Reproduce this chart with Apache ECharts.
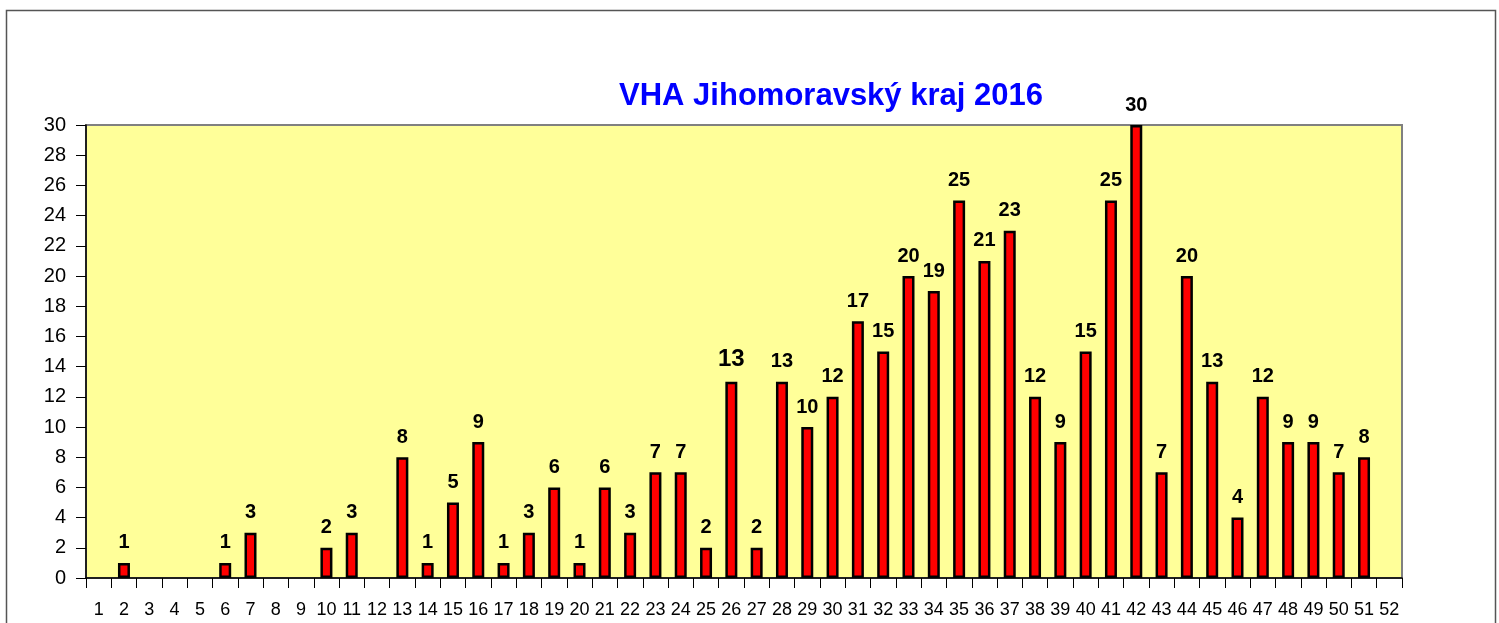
<!DOCTYPE html>
<html><head><meta charset="utf-8">
<script src="https://cdn.jsdelivr.net/npm/echarts@6/dist/echarts.min.js"></script>
<style>html,body{margin:0;padding:0;background:#fff}#c{width:1499px;height:623px}</style>
</head><body><div id="c"></div>
<script>
const categories = Array.from({length: 52}, (_, i) => String(i + 1));
const values = [null,1,null,null,null,1,3,null,null,2,3,null,8,1,5,9,1,3,6,1,6,3,7,7,2,13,2,13,10,12,17,15,20,19,25,21,23,12,9,15,25,30,7,20,13,4,12,9,9,7,8,null];
const yTicks = {min: 0, max: 30, interval: 2};
const title = 'VHA Jihomoravský kraj 2016';
const bigLabelIndex = 25;

const chart = echarts.init(document.getElementById('c'));
const data = values.map((v, i) => {
  if (i === bigLabelIndex) return {value: v, label: {fontSize: 24}};
  return v;
});
const FF = 'Liberation Sans, Arial, sans-serif';
chart.setOption({
  animation: false,
  backgroundColor: '#fff',
  graphic: [{
    type: 'rect', shape: {x: 6.5, y: 10.5, width: 1489, height: 630},
    style: {fill: 'none', stroke: '#555', lineWidth: 1.5}, silent: true, z: -1
  }],
  title: {
    text: title, left: 826, top: 76, textAlign: 'center',
    textStyle: {color: '#0000FF', fontSize: 31, fontWeight: 'bold', fontFamily: FF}
  },
  grid: {left: 86, top: 125, right: 97, bottom: 45, show: true, backgroundColor: '#FFFF99', borderColor: '#808080', borderWidth: 2},
  xAxis: {
    type: 'category', data: categories, boundaryGap: true,
    axisLine: {lineStyle: {color: '#000', width: 1.5}},
    axisTick: {show: true, length: 10, inside: false, lineStyle: {color: '#000'}},
    axisLabel: {interval: 0, margin: 23, color: '#000', fontSize: 18, fontFamily: FF}
  },
  yAxis: {
    type: 'value', min: yTicks.min, max: yTicks.max, interval: yTicks.interval,
    axisLine: {show: true, lineStyle: {color: '#000', width: 1.5}},
    axisTick: {show: true, length: 10, lineStyle: {color: '#000'}},
    splitLine: {show: false},
    axisLabel: {margin: 20, color: '#000', fontSize: 20, fontFamily: FF}
  },
  series: [{
    type: 'bar', data: data, barWidth: 12,
    itemStyle: {color: '#FF0000', borderColor: '#000', borderWidth: 2.5},
    label: {show: true, position: 'top', distance: 10, color: '#000', fontSize: 20, fontWeight: 'bold', fontFamily: FF}
  }]
});
</script></body></html>
